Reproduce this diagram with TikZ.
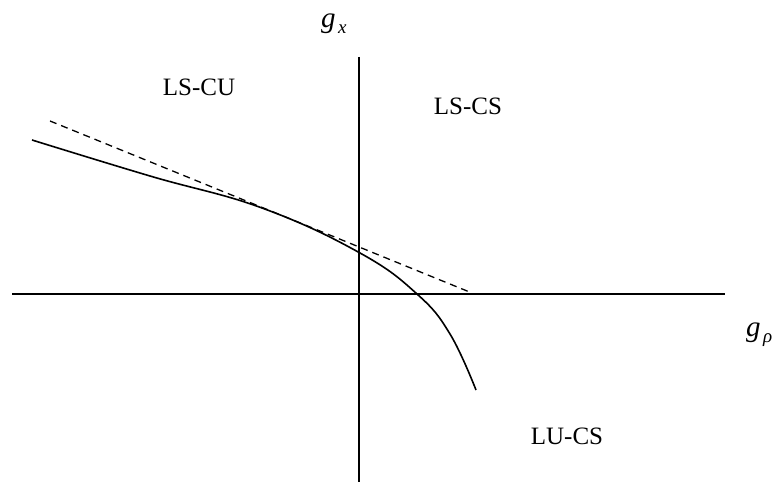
\documentclass[tikz,border=0pt]{standalone}
\usepackage{fontspec}
\setmainfont{Liberation Serif}
\begin{document}
\begin{tikzpicture}[x=1pt,y=-1pt,
  axis/.style={line width=1.3pt},
  curve/.style={line width=1.6pt},
  tangent/.style={line width=1.3pt,dash pattern=on 7pt off 5pt},
  region/.style={font=\fontsize{25}{28}\selectfont, inner sep=0pt},
  axlabel/.style={font=\fontsize{29}{32}\selectfont\itshape, inner sep=0pt, anchor=base west}]
\useasboundingbox (0,0) rectangle (782,486);
\coordinate (xl) at (12,294);
\coordinate (xr) at (725,294);
\coordinate (yt) at (359,57);
\coordinate (yb) at (359,482);
\draw[axis] (xl) -- (xr);
\draw[axis] (yt) -- (yb);
\coordinate (ts) at (50,121);
\coordinate (te) at (472,293);
\draw[tangent] (ts) -- (te);
\draw[curve] plot[smooth, tension=0.7] coordinates {(32,140) (150,176) (262,208) (360,253) (417,294) (450,334) (476,390)};
\node[axlabel] (gx) at (321,28) {g\raisebox{-0.2em}{\hspace{0.08em}\fontsize{19}{20}\selectfont\itshape x}};
\node[axlabel] (gr) at (746,337) {g\raisebox{-0.2em}{\hspace{0.08em}\fontsize{19}{20}\selectfont\itshape ρ}};
\node[region] (lscu) at (199,87) {LS-CU};
\node[region] (lscs) at (468,106) {LS-CS};
\node[region] (lucs) at (567,436) {LU-CS};
\end{tikzpicture}
\end{document}
